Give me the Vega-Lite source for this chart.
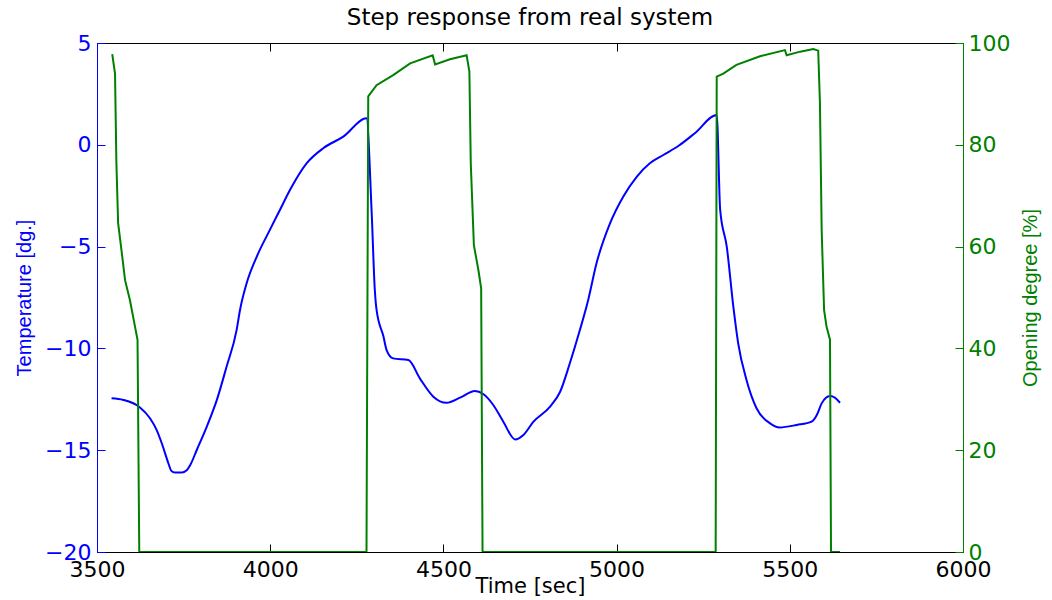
{
  "$schema": "https://vega.github.io/schema/vega-lite/v6.json",
  "width": 866,
  "height": 509,
  "autosize": "none",
  "padding": {"left": 97, "top": 43, "right": 89, "bottom": 48},
  "background": "white",
  "title": {"text": "Step response from real system", "font": "DejaVu Sans", "fontSize": 23, "fontWeight": "normal", "color": "black", "offset": 2},
  "config": {"view": {"stroke": "black", "strokeWidth": 1}},
  "datasets": {
    "temp": [
      {"t": 3542, "temp": -12.45}, {"t": 3576, "temp": -12.53}, {"t": 3624, "temp": -12.9}, {"t": 3653, "temp": -13.43},
      {"t": 3672, "temp": -14.0}, {"t": 3687, "temp": -14.66}, {"t": 3706, "temp": -15.64}, {"t": 3714, "temp": -16.0},
      {"t": 3725, "temp": -16.1}, {"t": 3745, "temp": -16.1}, {"t": 3758, "temp": -16.0}, {"t": 3770, "temp": -15.7},
      {"t": 3788, "temp": -14.99}, {"t": 3817, "temp": -13.84}, {"t": 3846, "temp": -12.53}, {"t": 3874, "temp": -10.9},
      {"t": 3903, "temp": -9.1}, {"t": 3913, "temp": -8.1}, {"t": 3932, "temp": -6.8}, {"t": 3961, "temp": -5.5},
      {"t": 3999, "temp": -4.18}, {"t": 4028, "temp": -3.2}, {"t": 4057, "temp": -2.22}, {"t": 4105, "temp": -0.91},
      {"t": 4153, "temp": -0.17}, {"t": 4211, "temp": 0.4}, {"t": 4278, "temp": 1.3}, {"t": 4293, "temp": -3.36},
      {"t": 4302, "temp": -7.13}, {"t": 4307, "temp": -8.1}, {"t": 4327, "temp": -9.42}, {"t": 4336, "temp": -10.08},
      {"t": 4355, "temp": -10.49}, {"t": 4399, "temp": -10.57}, {"t": 4432, "temp": -11.47}, {"t": 4471, "temp": -12.37},
      {"t": 4509, "temp": -12.67}, {"t": 4548, "temp": -12.42}, {"t": 4591, "temp": -12.09}, {"t": 4615, "temp": -12.24},
      {"t": 4644, "temp": -12.78}, {"t": 4673, "temp": -13.6}, {"t": 4707, "temp": -14.47}, {"t": 4731, "temp": -14.25},
      {"t": 4760, "temp": -13.6}, {"t": 4808, "temp": -12.86}, {"t": 4837, "temp": -12.13}, {"t": 4865, "temp": -10.73},
      {"t": 4894, "temp": -9.1}, {"t": 4918, "temp": -7.62}, {"t": 4942, "temp": -5.82}, {"t": 4981, "temp": -3.86},
      {"t": 5019, "temp": -2.55}, {"t": 5058, "temp": -1.57}, {"t": 5096, "temp": -0.91}, {"t": 5135, "temp": -0.5},
      {"t": 5178, "temp": -0.06}, {"t": 5226, "temp": 0.57}, {"t": 5289, "temp": 1.46}, {"t": 5299, "temp": -3.2},
      {"t": 5318, "temp": -5.0}, {"t": 5337, "temp": -7.95}, {"t": 5351, "temp": -9.75},
      {"t": 5375, "temp": -11.55}, {"t": 5404, "temp": -12.94}, {"t": 5443, "temp": -13.68}, {"t": 5471, "temp": -13.88},
      {"t": 5520, "temp": -13.76}, {"t": 5563, "temp": -13.6}, {"t": 5578, "temp": -13.27}, {"t": 5592, "temp": -12.7},
      {"t": 5616, "temp": -12.34}, {"t": 5630, "temp": -12.42}, {"t": 5645, "temp": -12.67}
    ],
    "open": [
      {"t": 3544, "open": 97.8}, {"t": 3552, "open": 94.0}, {"t": 3556, "open": 76.4}, {"t": 3561, "open": 64.6},
      {"t": 3573, "open": 58.0}, {"t": 3581, "open": 53.4}, {"t": 3595, "open": 49.5}, {"t": 3617, "open": 41.7},
      {"t": 3622, "open": 0}, {"t": 4278, "open": 0}, {"t": 4283, "open": 89.5}, {"t": 4307, "open": 91.7},
      {"t": 4355, "open": 93.7}, {"t": 4404, "open": 96.0}, {"t": 4469, "open": 97.6}, {"t": 4476, "open": 95.8},
      {"t": 4519, "open": 96.8}, {"t": 4567, "open": 97.6}, {"t": 4575, "open": 94.4}, {"t": 4579, "open": 76.4},
      {"t": 4588, "open": 60.3}, {"t": 4601, "open": 55.4}, {"t": 4609, "open": 51.8}, {"t": 4613, "open": 0},
      {"t": 5286, "open": 0}, {"t": 5289, "open": 93.4}, {"t": 5308, "open": 94.0}, {"t": 5346, "open": 95.7},
      {"t": 5414, "open": 97.4}, {"t": 5486, "open": 98.6}, {"t": 5491, "open": 97.6}, {"t": 5530, "open": 98.3},
      {"t": 5568, "open": 98.8}, {"t": 5582, "open": 98.5}, {"t": 5587, "open": 88.2}, {"t": 5592, "open": 63.3},
      {"t": 5599, "open": 47.5}, {"t": 5606, "open": 44.3}, {"t": 5616, "open": 41.7}, {"t": 5619, "open": 0},
      {"t": 5645, "open": 0}
    ]
  },
  "layer": [
    {
      "data": {"name": "temp"},
      "mark": {"type": "line", "color": "#0000ff", "strokeWidth": 2, "clip": true, "interpolate": "monotone"},
      "encoding": {
        "x": {"field": "t", "type": "quantitative", "scale": {"domain": [3500, 6000], "nice": false, "zero": false},
          "axis": {"orient": "bottom", "values": [3500, 4000, 4500, 5000, 5500, 6000], "format": "d", "grid": false,
            "tickSize": -8, "tickColor": "black", "domainColor": "black", "labelPadding": 15, "labelFlush": false, "labelOverlap": false,
            "labelFont": "DejaVu Sans", "labelFontSize": 22, "labelColor": "black",
            "title": "Time [sec]", "titleFont": "DejaVu Sans", "titleFontSize": 21, "titleFontWeight": "normal", "titleColor": "black", "titlePadding": -5}},
        "y": {"field": "temp", "type": "quantitative", "scale": {"domain": [-20, 5], "nice": false, "zero": false},
          "axis": {"orient": "left", "values": [-20, -15, -10, -5, 0, 5], "format": "d", "grid": false,
            "tickSize": -8, "tickColor": "#0000ff", "domainColor": "#0000ff", "labelPadding": 14, "labelFlush": false, "labelOverlap": false,
            "labelFont": "DejaVu Sans", "labelFontSize": 22, "labelColor": "#0000ff",
            "title": "Temperature [dg.]", "titleFont": "Liberation Sans", "titleFontSize": 20, "titleFontWeight": "normal", "titleColor": "#0000ff", "titlePadding": 10}}
      }
    },
    {
      "data": {"name": "open"},
      "mark": {"type": "line", "color": "#008000", "strokeWidth": 2, "clip": true},
      "encoding": {
        "x": {"field": "t", "type": "quantitative", "scale": {"domain": [3500, 6000], "nice": false, "zero": false},
          "axis": {"orient": "top", "values": [3500, 4000, 4500, 5000, 5500, 6000], "grid": false, "labels": false,
            "tickSize": -8, "tickColor": "black", "domainColor": "black", "title": null}},
        "y": {"field": "open", "type": "quantitative", "scale": {"domain": [0, 100], "nice": false, "zero": false},
          "axis": {"orient": "right", "values": [0, 20, 40, 60, 80, 100], "format": "d", "grid": false,
            "tickSize": -8, "tickColor": "#008000", "domainColor": "#008000", "labelPadding": 13, "labelFlush": false, "labelOverlap": false,
            "labelFont": "DejaVu Sans", "labelFontSize": 22, "labelColor": "#008000",
            "title": "Opening degree [%]", "titleAngle": 270, "titleBaseline": "bottom", "titleFont": "Liberation Sans", "titleFontSize": 20, "titleFontWeight": "normal", "titleColor": "#008000", "titlePadding": 31}}
      }
    }
  ],
  "resolve": {"scale": {"x": "independent", "y": "independent"}}
}
